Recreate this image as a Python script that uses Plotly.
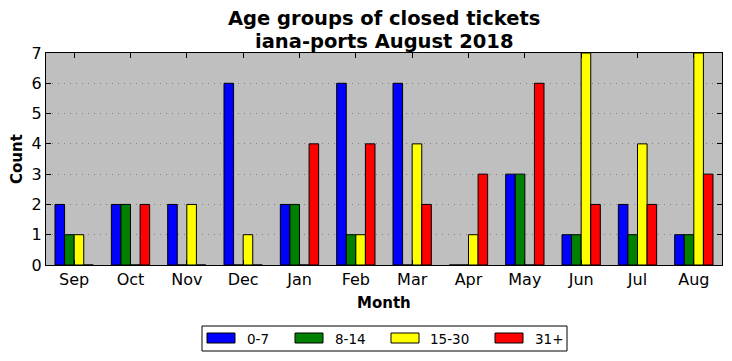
import plotly.graph_objects as go

months = ["Sep", "Oct", "Nov", "Dec", "Jan", "Feb", "Mar", "Apr", "May", "Jun", "Jul", "Aug"]
age_0_7 = [2, 2, 2, 6, 2, 6, 6, 0, 3, 1, 2, 1]
age_8_14 = [1, 2, 0, 0, 2, 1, 0, 0, 3, 1, 1, 1]
age_15_30 = [1, 0, 2, 1, 0, 1, 4, 1, 0, 7, 4, 7]
age_31p = [0, 2, 0, 0, 4, 4, 2, 3, 6, 2, 2, 3]

series = [("0-7", age_0_7, "#0000ff"), ("8-14", age_8_14, "#008000"),
          ("15-30", age_15_30, "#ffff00"), ("31+", age_31p, "#ff0000")]

W, H = 732, 361
L, R, T, B = 46, 722, 53, 265


def px(x):
    return (x - L) / (R - L)


def py(y):
    return (B - y) / (B - T)


font = "DejaVu Sans"
fig = go.Figure()
for name, vals, col in series:
    fig.add_trace(go.Bar(x=months, y=vals, name=name, showlegend=False,
                         marker=dict(color=col, line=dict(color="black", width=1))))

shapes = [dict(type="rect", xref="paper", yref="paper", x0=px(202), x1=px(567), y0=py(326), y1=py(351),
               line=dict(color="black", width=1), fillcolor="white", layer="above")]
annotations = [
    dict(text="<b>Age groups of closed tickets</b>", xref="paper", yref="paper", x=0.5, y=py(19),
         xanchor="center", yanchor="middle", showarrow=False, font=dict(size=19.5)),
    dict(text="<b>iana-ports August 2018</b>", xref="paper", yref="paper", x=0.5, y=py(41),
         xanchor="center", yanchor="middle", showarrow=False, font=dict(size=19.5)),
    dict(text="<b>Month</b>", xref="paper", yref="paper", x=0.5, y=py(303),
         xanchor="center", yanchor="middle", showarrow=False, font=dict(size=15)),
    dict(text="<b>Count</b>", xref="paper", yref="paper", x=px(17), y=0.5, textangle=-90,
         xanchor="center", yanchor="middle", showarrow=False, font=dict(size=15)),
]
sw_x = [207, 295, 391, 495]
tx_x = [245, 333, 428, 533]
for (name, vals, col), sx, tx in zip(series, sw_x, tx_x):
    shapes.append(dict(type="rect", xref="paper", yref="paper", x0=px(sx), x1=px(sx + 28),
                       y0=py(333), y1=py(343), line=dict(color="black", width=1), fillcolor=col, layer="above"))
    annotations.append(dict(text=name, xref="paper", yref="paper", x=px(tx), y=py(338.5),
                            xanchor="left", yanchor="middle", showarrow=False, font=dict(size=13.5)))

fig.update_layout(
    width=W, height=H,
    margin=dict(l=L, r=W - R, t=T, b=H - B),
    paper_bgcolor="white", plot_bgcolor="#bfbfbf",
    barmode="group", bargap=0.32, bargroupgap=0,
    font=dict(family=font, color="black"),
    shapes=shapes, annotations=annotations,
    xaxis=dict(range=[-0.5, 11.5], showline=True, linecolor="black", linewidth=1, mirror="allticks",
               ticks="inside", ticklen=5, tickcolor="black", tickfont=dict(size=16), showgrid=False,
               automargin=False),
    yaxis=dict(range=[0, 7], dtick=1, showline=True, linecolor="black", linewidth=1, mirror="allticks",
               ticks="inside", ticklen=5, tickcolor="black", tickfont=dict(size=16),
               showgrid=True, gridcolor="#808080", griddash="1px,5px", gridwidth=1, zeroline=False,
               automargin=False),
)
fig.write_html("out.html", config={"displayModeBar": False},
               post_script="document.body.style.margin='0';document.body.style.overflow='hidden';")
